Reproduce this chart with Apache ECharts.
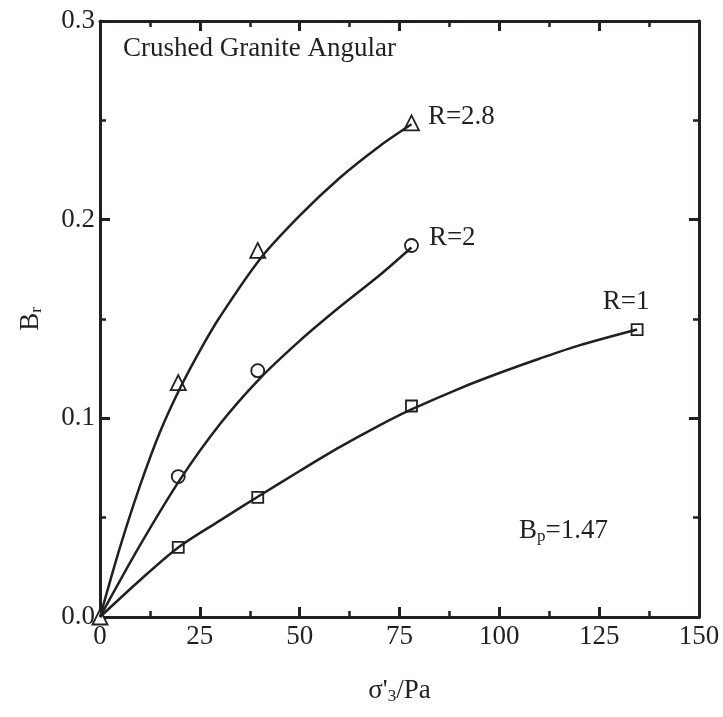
<!DOCTYPE html>
<html>
<head>
<meta charset="utf-8">
<script src="https://cdn.jsdelivr.net/npm/echarts@6/dist/echarts.min.js"></script>
<style>
  html, body { margin: 0; padding: 0; background: #fff; }
  #chart { width: 723px; height: 717px; }
</style>
</head>
<body>
<div id="chart"></div>
<script>
  // measured points (sigma'3 in Pa, Br)
  const r28X = [0, 19.6, 39.5, 78];
  const r28Y = [0, 0.118, 0.1845, 0.2487];
  const r2X = [19.6, 39.5, 78];
  const r2Y = [0.0707, 0.124, 0.187];
  const r1X = [19.6, 39.5, 78, 134.5];
  const r1Y = [0.035, 0.0602, 0.1062, 0.1447];

  // fitted curves
  const r28CurveX = [0, 5, 10, 15, 20, 25, 30, 40, 50, 60, 70, 78];
  const r28CurveY = [0, 0.035, 0.066, 0.093, 0.115, 0.134, 0.151, 0.180, 0.202, 0.221, 0.237, 0.248];
  const r2CurveX = [0, 10, 20, 30, 40, 50, 60, 70, 78];
  const r2CurveY = [0, 0.036, 0.069, 0.097, 0.120, 0.139, 0.156, 0.172, 0.186];
  const r1CurveX = [0, 10, 19.6, 30, 39.5, 50, 60, 70, 78, 90, 100, 110, 120, 134.5];
  const r1CurveY = [0, 0.0185, 0.035, 0.0485, 0.0605, 0.0735, 0.0855, 0.0965, 0.1045, 0.115, 0.1228, 0.13, 0.1367, 0.1447];

  const xTicks = [0, 25, 50, 75, 100, 125, 150];
  const yTicks = [0.0, 0.1, 0.2, 0.3];

  const font = 'Liberation Serif';
  const ink = '#231f20';

  const zip = (xs, ys) => xs.map((x, i) => [x, ys[i]]);

  // frame axis (ticks inside, both major and minor)
  const frameAxis = (extra) => Object.assign({
    type: 'value',
    axisLine: { show: true, onZero: false, lineStyle: { color: ink, width: 3 } },
    axisTick: { show: true, inside: true, length: 10, lineStyle: { color: ink, width: 3 } },
    minorTick: { show: true, splitNumber: 2, length: 6, lineStyle: { color: ink, width: 2.5 } },
    splitLine: { show: false },
    axisLabel: { show: false },
  }, extra);

  const chart = echarts.init(document.getElementById('chart'));

  const endLabel = (text, pos) => ({
    show: true,
    formatter: text,
    position: pos,
    fontFamily: font,
    fontSize: 27,
    color: ink,
  });

  const markerStyle = { color: '#fff', borderColor: ink, borderWidth: 1.8, opacity: 1 };
  const curveStyle = { color: ink, width: 2.5 };

  const option = {
    animation: false,
    backgroundColor: '#fff',
    grid: { left: 100, right: 24, top: 21, bottom: 100 },
    xAxis: [
      frameAxis({
        min: xTicks[0], max: xTicks[xTicks.length - 1], interval: 25,
        position: 'bottom',
        axisLabel: { show: true, fontFamily: font, fontSize: 27, color: ink, margin: 6 },
        name: '{a|σ\'}{s|3}{a|/Pa}',
        nameLocation: 'middle',
        nameGap: 59,
        nameTextStyle: {
          rich: {
            a: { fontFamily: font, fontSize: 27, color: ink },
            s: { fontFamily: font, fontSize: 17, color: ink, padding: [12, 0, 0, 0] },
          },
        },
      }),
      frameAxis({ min: 0, max: 150, interval: 25, position: 'top' }),
    ],
    yAxis: [
      frameAxis({
        min: yTicks[0], max: yTicks[yTicks.length - 1], interval: 0.1,
        position: 'left',
        axisLabel: {
          show: true, fontFamily: font, fontSize: 27, color: ink, margin: 5,
          formatter: (v) => v.toFixed(1),
        },
        name: '{a|B}{s|r}',
        nameLocation: 'middle',
        nameGap: 55,
        nameTextStyle: {
          rich: {
            a: { fontFamily: font, fontSize: 27, color: ink },
            s: { fontFamily: font, fontSize: 17, color: ink, padding: [12, 0, 0, 0] },
          },
        },
      }),
      frameAxis({ min: 0, max: 0.3, interval: 0.1, position: 'right' }),
    ],
    series: [
      { type: 'line', data: zip(r1CurveX, r1CurveY), smooth: 0.3, showSymbol: false, lineStyle: curveStyle, silent: true },
      { type: 'line', data: zip(r2CurveX, r2CurveY), smooth: 0.3, showSymbol: false, lineStyle: curveStyle, silent: true },
      { type: 'line', data: zip(r28CurveX, r28CurveY), smooth: 0.3, showSymbol: false, lineStyle: curveStyle, silent: true },
      {
        type: 'scatter', symbol: 'rect', symbolSize: 11, itemStyle: markerStyle,
        data: zip(r1X, r1Y).map((p, i, a) => i === a.length - 1
          ? { value: p, label: Object.assign(endLabel('R=1', 'top'), { offset: [-11, -3] }) }
          : p),
      },
      {
        type: 'scatter', symbol: 'circle', symbolSize: 13, itemStyle: markerStyle,
        data: zip(r2X, r2Y).map((p, i, a) => i === a.length - 1
          ? { value: p, label: Object.assign(endLabel('R=2', 'right'), { offset: [4, -8], distance: 6 }) }
          : p),
      },
      {
        type: 'scatter', symbol: 'triangle', symbolSize: 15, itemStyle: markerStyle, clip: false,
        data: zip(r28X, r28Y).map((p, i, a) => i === a.length - 1
          ? { value: p, label: Object.assign(endLabel('R=2.8', 'right'), { offset: [2, -6], distance: 6 }) }
          : p),
      },
    ],
    graphic: [
      {
        type: 'text', left: 123, top: 35,
        style: { text: 'Crushed Granite Angular', font: '27px "' + font + '"', fill: ink },
      },
      {
        type: 'text', left: 519, top: 517,
        style: {
          text: '{a|B}{s|p}{a|=1.47}',
          rich: {
            a: { fontFamily: font, fontSize: 27, fill: ink },
            s: { fontFamily: font, fontSize: 17, fill: ink, padding: [12, 0, 0, 0] },
          },
        },
      },
    ],
  };

  chart.setOption(option);
</script>
</body>
</html>
